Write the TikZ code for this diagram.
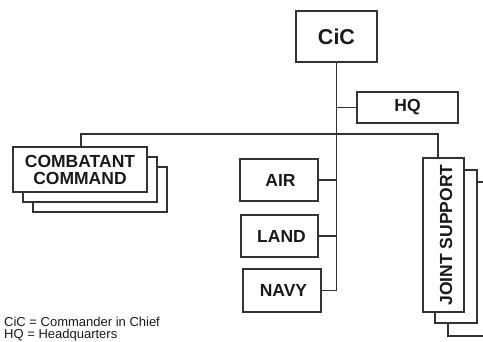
\documentclass[tikz,border=0pt]{standalone}
\usepackage{fontspec}
\setmainfont{Liberation Sans}
\usetikzlibrary{calc}
\definecolor{inkline}{HTML}{333333}
\definecolor{inktext}{HTML}{1A1A1A}
\begin{document}
\begin{tikzpicture}[x=1pt,y=-1pt,
  orgbox/.style={draw=inkline, line width=1.2pt, fill=white, inner sep=0pt,
    text=inktext, font=\bfseries\fontsize{17.5}{17}\selectfont, align=center},
  link/.style={draw=inkline, line width=1.2pt},
  legend/.style={anchor=base west, inner sep=0pt, text=inktext,
    font=\fontsize{13}{13}\selectfont}]
\useasboundingbox (0,0) rectangle (483,342);

% top of the chart
\node[orgbox, minimum width=81pt, minimum height=51pt,
  font=\bfseries\fontsize{21.5}{21}\selectfont] (cic) at (336.5,36.5) {CiC};
\node[orgbox, minimum width=101pt, minimum height=31pt] (hq) at (407.5,107.5) {HQ};

% service components
\node[orgbox, minimum width=78pt, minimum height=42pt] (air) at (279,180) {\hspace{3pt}AIR};
\node[orgbox, minimum width=77pt, minimum height=42pt] (land) at (279.5,236) {\hspace{4pt}LAND};
\node[orgbox, minimum width=78pt, minimum height=43pt] (navy) at (282,290.5) {\hspace{3pt}NAVY};

% stacked combatant commands
\node[orgbox, minimum width=134pt, minimum height=45pt] (cc3) at (100,189.5) {};
\node[orgbox, minimum width=134pt, minimum height=45pt] (cc2) at (90,179.5) {};
\node[orgbox, minimum width=134pt, minimum height=45pt] (cc) at (80,169.5) {COMBATANT\\COMMAND};

% stacked joint support elements
\begin{scope}
\clip (0,0) rectangle (483,342);
\node[orgbox, minimum width=42pt, minimum height=154pt] (js3) at (469,259) {};
\node[orgbox, minimum width=42pt, minimum height=153pt] (js2) at (456,246.5) {};
\end{scope}
\node[orgbox, minimum width=41pt, minimum height=154pt] (js) at (443.5,235) {};
\node[rotate=90, text=inktext, inner sep=0pt,
  font=\bfseries\fontsize{17.5}{17}\selectfont] (jslabel) at ($(js.center)+(2.5,0)$) {JOINT SUPPORT};

% connectors
\coordinate (trunkend) at (cic.south |- navy.east);
\coordinate (busR) at (438,134);
\draw[link] (cic.south) -- (trunkend);
\draw[link] (hq.west) -- (hq.west -| cic.south);
\draw[link] (air.east) -- (air.east -| cic.south);
\draw[link] (land.east) -- (land.east -| cic.south);
\draw[link] (navy.east) -- (trunkend);
\draw[link] ($(cc.north)+(1,0)$) |- (busR) -- (busR |- js.north);

% legend
\node[legend] (leg1) at (4,327) {CiC = Commander in Chief};
\node[legend] (leg2) at (4,339) {HQ = Headquarters};
\end{tikzpicture}
\end{document}
